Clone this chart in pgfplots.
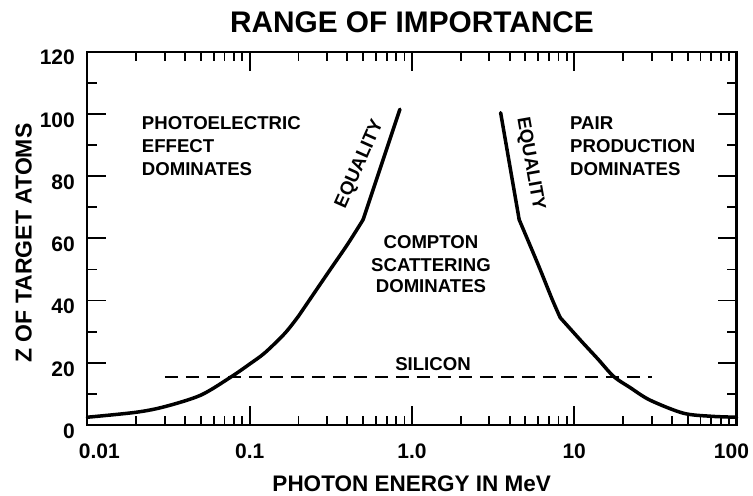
\documentclass[border=0pt]{standalone}
\usepackage{fontspec}
\setmainfont{Liberation Sans}
\usepackage{pgfplots}
\pgfplotsset{compat=1.18}
\begin{document}
\begin{tikzpicture}
\path (-87.4bp,-71bp) rectangle (665.6bp,425bp);
\begin{axis}[
  scale only axis, width=649.1bp, height=373.3bp,
  xmode=log, log basis x=10,
  xmin=0.01, xmax=100, ymin=0, ymax=120,
  xtick={0.01,0.1,1,10,100},
  minor xtick={0.02,0.03,0.04,0.05,0.06,0.07,0.08,0.09,
               0.2,0.3,0.4,0.5,0.6,0.7,0.8,0.9,
               2,3,4,5,6,7,8,9,20,30,40,50,60,70,80,90},
  xticklabels={0.01\hspace*{-24bp}, 0.1, 1.0, 10, \hspace*{-10bp}100},
  ytick={0,20,...,120}, minor ytick={10,30,...,110},
  axis line style={line width=2.2bp},
  every major tick/.append style={black, line width=1.8bp},
  every minor tick/.append style={black, line width=1.8bp},
  major tick length=19bp, minor tick length=9.5bp,
  tick align=inside, tick pos=both,
  tick label style={font=\fontsize{21bp}{21bp}\selectfont\bfseries},
  /pgf/number format/assume math mode=true,
  xticklabel style={anchor=base, yshift=-33.3bp, inner sep=0pt},
  yticklabel style={anchor=east, xshift=-12.4bp, yshift=-6bp, inner sep=0pt},
  clip=false,
]
% photoelectric / compton equality
\addplot[black, line width=3.5bp, smooth, line cap=round] coordinates {
 (0.01,2.5) (0.02,4.1) (0.03,5.9) (0.05,9.6) (0.077,15.5)
 (0.1,19.6) (0.124,23.2) (0.165,29.5) (0.2,35)};
\addplot[black, line width=3.5bp, smooth, line cap=round] coordinates {
 (0.2,35) (0.3,48.5) (0.4,58) (0.5,66)};
\addplot[black, line width=3.5bp, line cap=round] coordinates {
 (0.5,66) (0.843,101.5)};
% compton / pair equality
\addplot[black, line width=3.5bp, line cap=round] coordinates {
 (3.52,100.4) (4.58,66)};
\addplot[black, line width=3.5bp, smooth, line cap=round] coordinates {
 (4.58,66) (6,51.5) (7.3,40.5) (8.2,34.5)};
\addplot[black, line width=3.5bp, smooth, line cap=round] coordinates {
 (8.2,34.5) (10,29.5) (11.36,26.3) (14,21.2) (17.5,15.6) (22,12.1)
 (29.3,8.0) (47,3.8) (70,2.8) (100,2.5)};
% silicon
\addplot[black, line width=2bp, dash pattern=on 13bp off 8bp] coordinates {(0.03,15.5) (30,15.5)};

\node[anchor=base, inner sep=0pt, font=\fontsize{29.8bp}{29.8bp}\selectfont\bfseries] at (rel axis cs:0.5,1.0501) {RANGE OF IMPORTANCE};
\node[anchor=base, inner sep=0pt, font=\fontsize{22.5bp}{22.5bp}\selectfont\bfseries] at (rel axis cs:0.4996,-0.1768) {PHOTON ENERGY IN MeV};
\node[anchor=base, rotate=90, inner sep=0pt, font=\fontsize{23bp}{23bp}\selectfont\bfseries] at (rel axis cs:-0.0858,0.4875) {Z OF TARGET ATOMS};

\tikzset{lab/.style={inner sep=0pt, font=\fontsize{18.6bp}{22.5bp}\selectfont\bfseries}}
\node[lab, anchor=base west] at (rel axis cs:0.0837,0.7903) {PHOTOELECTRIC};
\node[lab, anchor=base west] at (rel axis cs:0.0837,0.7294) {EFFECT};
\node[lab, anchor=base west] at (rel axis cs:0.0837,0.6697) {DOMINATES};
\node[lab, anchor=base west] at (rel axis cs:0.7435,0.7903) {PAIR};
\node[lab, anchor=base west] at (rel axis cs:0.7435,0.7294) {PRODUCTION};
\node[lab, anchor=base west] at (rel axis cs:0.7435,0.6697) {DOMINATES};
\node[lab, anchor=base] at (rel axis cs:0.5293,0.4734) {COMPTON};
\node[lab, anchor=base] at (rel axis cs:0.5293,0.4125) {SCATTERING};
\node[lab, anchor=base] at (rel axis cs:0.5293,0.3555) {DOMINATES};
\node[lab, anchor=base] at (rel axis cs:0.5324,0.1447) {SILICON};
\node[lab, anchor=center, rotate=66] at (rel axis cs:0.4198,0.6986) {EQUALITY};
\node[lab, anchor=center, rotate=-80] at (rel axis cs:0.6820,0.6992) {EQUALITY};
\end{axis}
\end{tikzpicture}
\end{document}
